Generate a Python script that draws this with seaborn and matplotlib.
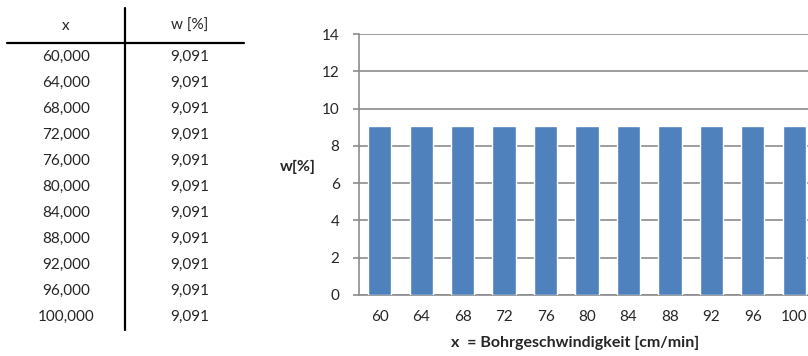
import matplotlib
matplotlib.use("Agg")
import matplotlib.pyplot as plt
from matplotlib.lines import Line2D
import seaborn as sns
import pandas as pd

# Data
speeds = [60, 64, 68, 72, 76, 80, 84, 88, 92, 96, 100]
weights = [9.091, 9.091, 9.091, 9.091, 9.091, 9.091, 9.091, 9.091, 9.091, 9.091, 9.091]
yticks = [0, 2, 4, 6, 8, 10, 12, 14]
table_headers = ["x", "w [%]"]

sns.set_style("white")
plt.rcParams["font.family"] = ["Lato", "DejaVu Sans"]

W, H = 808, 356
fig = plt.figure(figsize=(W / 100, H / 100), dpi=100)

def fx(px):
    return px / W

def fy(py):
    return 1 - py / H

# ---- value table on the left ----
fs = 11
fig.text(fx(66), fy(26), table_headers[0], ha="center", va="center", fontsize=fs)
fig.text(fx(190), fy(26), table_headers[1], ha="center", va="center", fontsize=fs)
fig.add_artist(Line2D([fx(7), fx(244)], [fy(43), fy(43)], color="black", lw=1.6))
fig.add_artist(Line2D([fx(125), fx(125)], [fy(8), fy(330)], color="black", lw=1.6))
for i, (xv, wv) in enumerate(zip(speeds, weights)):
    yy = 57 + i * 26
    fig.text(fx(66), fy(yy), f"{xv:.3f}".replace(".", ","), ha="center", va="center", fontsize=fs)
    fig.text(fx(190), fy(yy), f"{wv:.3f}".replace(".", ","), ha="center", va="center", fontsize=fs)

# ---- bar chart on the right ----
left_px, right_px = 359, 815
top_px, bottom_px = 34, 295
ax = fig.add_axes([fx(left_px), fy(bottom_px), (right_px - left_px) / W, (bottom_px - top_px) / H])

df = pd.DataFrame({"x": [str(s) for s in speeds], "w": weights})
sns.barplot(data=df, x="x", y="w", color="#4F81BD", saturation=1, width=0.56, ax=ax, zorder=3)

grid_c = "#8C8C8C"
ax.set_ylim(0, 14)
ax.set_xlim(-0.5, len(speeds) - 0.5)
ax.set_yticks(yticks)
ax.set_yticklabels([str(t) for t in yticks])
ax.yaxis.grid(True, color=grid_c, lw=1.2, zorder=0)
ax.set_axisbelow(True)
for s in ["top", "right"]:
    ax.spines[s].set_visible(False)
for s in ["left", "bottom"]:
    ax.spines[s].set_color(grid_c)
    ax.spines[s].set_linewidth(1.2)
ax.tick_params(axis="y", length=4, width=1.2, color=grid_c, labelsize=fs, pad=10, left=True)
ax.tick_params(axis="x", length=0, labelsize=fs, pad=11)
ax.set_xlabel("x  = Bohrgeschwindigkeit [cm/min]", fontsize=11.5, fontweight="bold")
ax.xaxis.set_label_coords(0.474, -0.155)
ax.set_ylabel("w[%]", fontsize=11.5, fontweight="bold", rotation=0, ha="center", va="center")
ax.yaxis.set_label_coords(-0.134, 0.49)

fig.savefig("out.png", dpi=100)
